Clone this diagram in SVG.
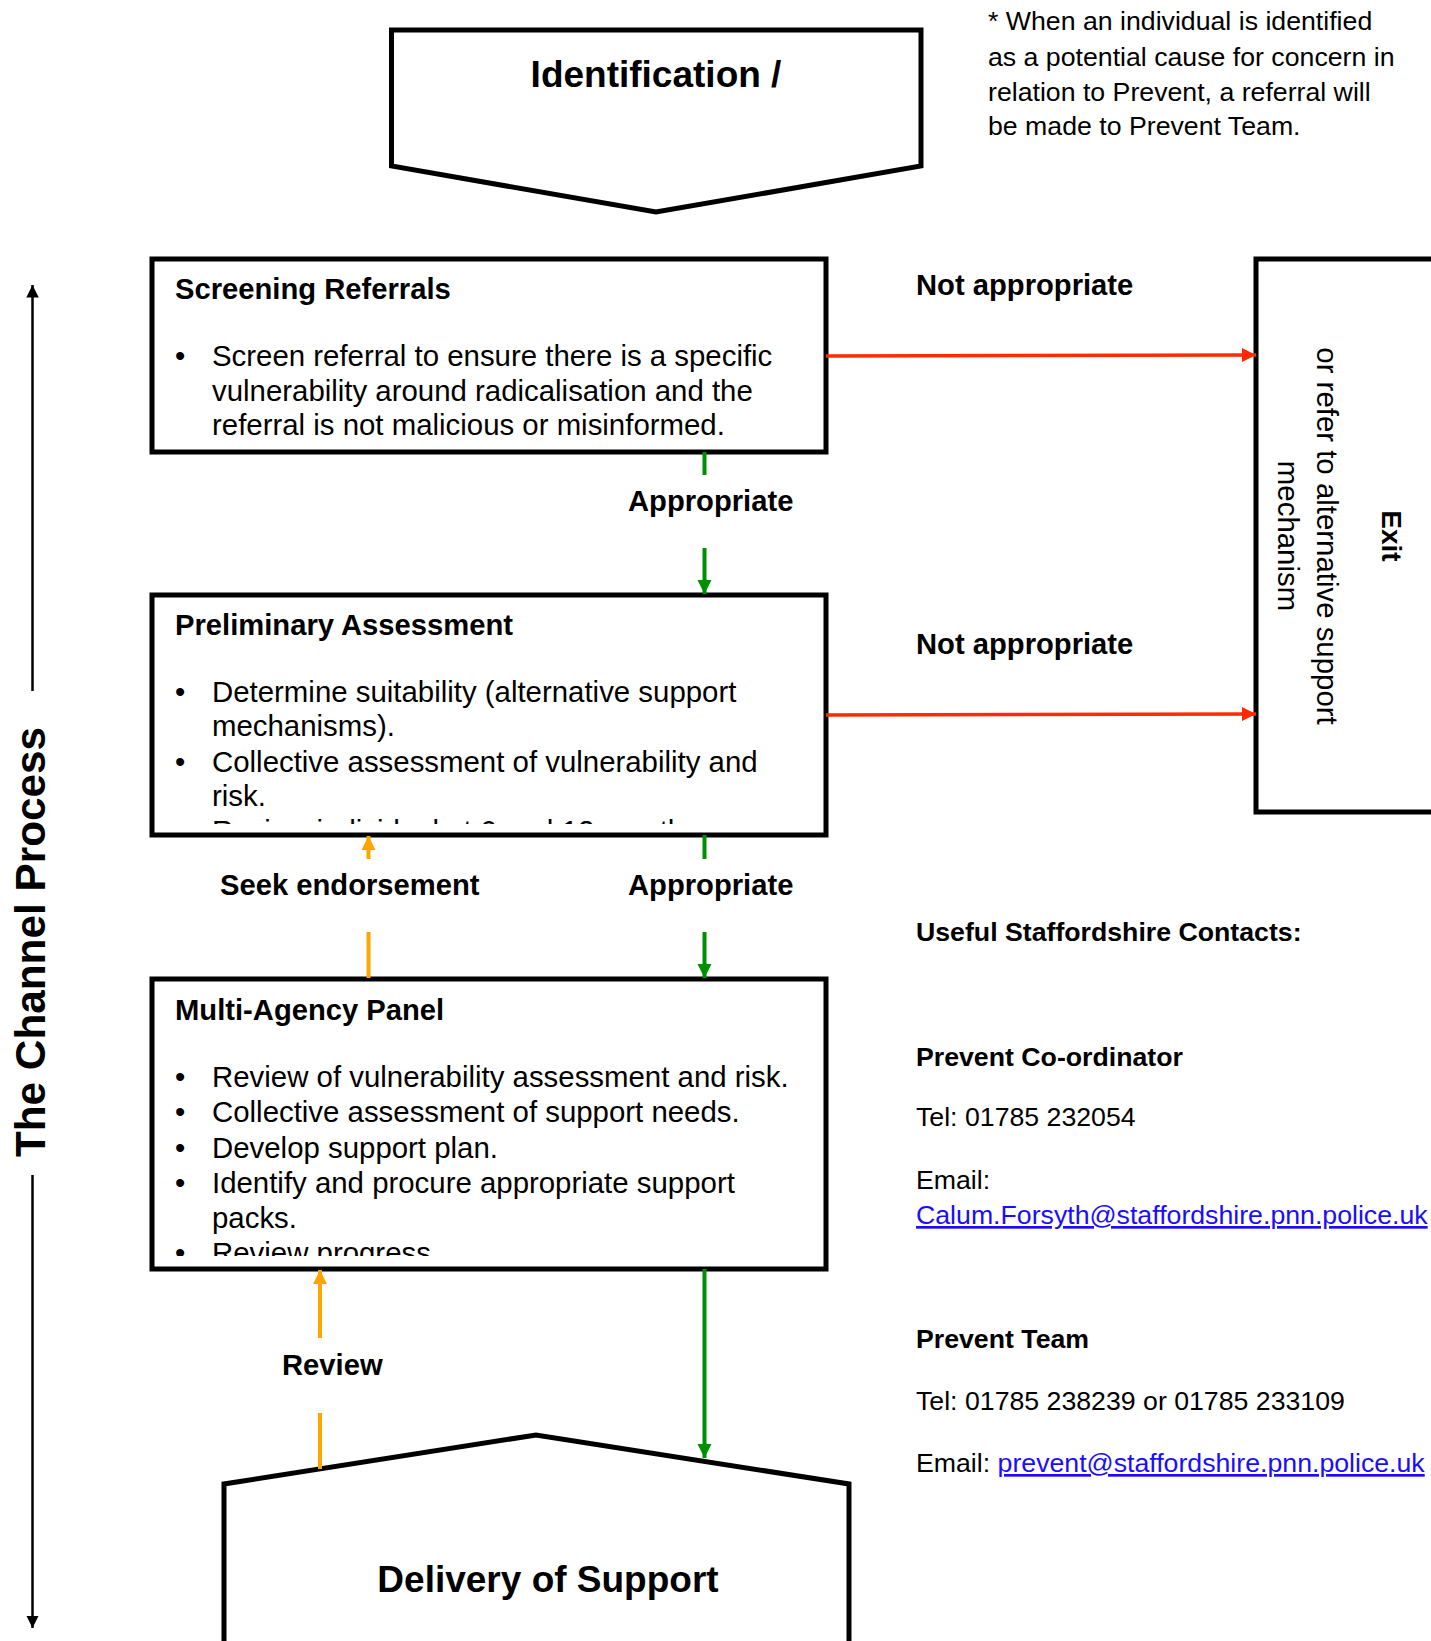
<svg xmlns="http://www.w3.org/2000/svg" width="1431" height="1641" viewBox="0 0 1431 1641">
<defs>
<style>
.box{fill:#fff;stroke:#000;stroke-width:5}
.t{font-family:"Liberation Sans",Arial,sans-serif;fill:#000}
.b{font-weight:bold}
.body{font-size:29.4px}
.ttl{font-size:29.2px;font-weight:bold}
.lbl{font-size:29.2px;font-weight:bold}
.big{font-size:37px;font-weight:bold}
.ct{font-size:26.7px}
.lnk{fill:#1a0dff;text-decoration:underline}
.red{stroke:#ff2a00;stroke-width:3.5;fill:none}
.grn{stroke:#008f00;stroke-width:4;fill:none}
.org{stroke:#ffa500;stroke-width:4;fill:none}
.blk{stroke:#000;stroke-width:2.5;fill:none}
</style>
<marker id="aR" viewBox="0 0 10 10" refX="10" refY="5" markerWidth="4" markerHeight="4" markerUnits="strokeWidth" orient="auto"><path d="M0,0 L10,5 L0,10 z" fill="#ff2a00"/></marker>
<marker id="aG" viewBox="0 0 10 10" refX="10" refY="5" markerWidth="3.6" markerHeight="3.6" markerUnits="strokeWidth" orient="auto"><path d="M0,0 L10,5 L0,10 z" fill="#008f00"/></marker>
<marker id="aO" viewBox="0 0 10 10" refX="10" refY="5" markerWidth="3.6" markerHeight="3.6" markerUnits="strokeWidth" orient="auto"><path d="M0,0 L10,5 L0,10 z" fill="#ffa500"/></marker>
<marker id="aK" viewBox="0 0 10 10" refX="10" refY="5" markerWidth="5" markerHeight="5" markerUnits="strokeWidth" orient="auto"><path d="M0,0 L10,5 L0,10 z" fill="#000"/></marker>
<clipPath id="cPre"><rect x="155" y="597" width="668" height="227"/></clipPath>
<clipPath id="cMulti"><rect x="155" y="982" width="668" height="274"/></clipPath>
</defs>
<rect width="1431" height="1641" fill="#fff"/>

<g id="side-arrow">
<line class="blk" x1="32.5" y1="691" x2="32.5" y2="285" marker-end="url(#aK)"/>
<line class="blk" x1="32.5" y1="1175" x2="32.5" y2="1628" marker-end="url(#aK)"/>
<text class="t b" font-size="42.3" text-anchor="middle" transform="translate(45,942) rotate(-90)">The Channel Process</text>
</g>

<g id="note">
<text class="t ct"><tspan x="988" y="30">* When an individual is identified</tspan><tspan x="988" y="66">as a potential cause for concern in</tspan><tspan x="988" y="101">relation to Prevent, a referral will</tspan><tspan x="988" y="135">be made to Prevent Team.</tspan></text>
</g>

<g id="identification">
<polygon class="box" points="391.5,30 921,30 921,166 656,212 391.5,166"/>
<text class="t big" x="656" y="87" text-anchor="middle">Identification /</text>
</g>

<g id="screening">
<rect class="box" x="152" y="259" width="674" height="193"/>
<text class="t ttl" x="175" y="299">Screening Referrals</text>
<text class="t body"><tspan x="175" y="366">•</tspan><tspan x="212" y="366">Screen referral to ensure there is a specific</tspan><tspan x="212" y="401">vulnerability around radicalisation and the</tspan><tspan x="212" y="435">referral is not malicious or misinformed.</tspan></text>
</g>

<g id="preliminary">
<rect class="box" x="152" y="595" width="674" height="240"/>
<text class="t ttl" x="175" y="635">Preliminary Assessment</text>
<g clip-path="url(#cPre)">
<text class="t body"><tspan x="175" y="702">•</tspan><tspan x="212" y="702">Determine suitability (alternative support</tspan><tspan x="212" y="736">mechanisms).</tspan><tspan x="175" y="772">•</tspan><tspan x="212" y="772">Collective assessment of vulnerability and</tspan><tspan x="212" y="806">risk.</tspan><tspan x="175" y="841">•</tspan><tspan x="212" y="841">Review individual at 6 and 12 months.</tspan></text>
</g>
</g>

<g id="multi-agency">
<rect class="box" x="152" y="979" width="674" height="290"/>
<text class="t ttl" x="175" y="1020">Multi-Agency Panel</text>
<g clip-path="url(#cMulti)">
<text class="t body"><tspan x="175" y="1087">•</tspan><tspan x="212" y="1087">Review of vulnerability assessment and risk.</tspan><tspan x="175" y="1122">•</tspan><tspan x="212" y="1122">Collective assessment of support needs.</tspan><tspan x="175" y="1158">•</tspan><tspan x="212" y="1158">Develop support plan.</tspan><tspan x="175" y="1193">•</tspan><tspan x="212" y="1193">Identify and procure appropriate support</tspan><tspan x="212" y="1228">packs.</tspan><tspan x="175" y="1263">•</tspan><tspan x="212" y="1263">Review progress.</tspan></text>
</g>
</g>

<g id="exit">
<rect class="box" x="1256" y="259" width="200" height="553"/>
<text class="t b" font-size="28" text-anchor="middle" transform="translate(1382,536) rotate(90)">Exit</text>
<text class="t body" text-anchor="middle" transform="translate(1317,536) rotate(90)">or refer to alternative support</text>
<text class="t body" text-anchor="middle" transform="translate(1278,536) rotate(90)">mechanism</text>
</g>

<g id="delivery">
<polygon class="box" points="224,1645 224,1484 536,1435 849,1484 849,1645"/>
<text class="t big" x="548" y="1592" text-anchor="middle">Delivery of Support</text>
</g>

<g id="contacts">
<text class="t ct b" x="916" y="941">Useful Staffordshire Contacts:</text>
<text class="t ct b" x="916" y="1066">Prevent Co-ordinator</text>
<text class="t ct" x="916" y="1126">Tel: 01785 232054</text>
<text class="t ct" x="916" y="1189">Email:</text>
<text class="t ct lnk" x="916" y="1224">Calum.Forsyth@staffordshire.pnn.police.uk</text>
<text class="t ct b" x="916" y="1348">Prevent Team</text>
<text class="t ct" x="916" y="1410">Tel: 01785 238239 or 01785 233109</text>
<text class="t ct" x="916" y="1472">Email: <tspan class="lnk">prevent@staffordshire.pnn.police.uk</tspan></text>
</g>

<g id="connectors">
<line class="red" x1="826" y1="356" x2="1256" y2="355" marker-end="url(#aR)"/>
<line class="red" x1="826" y1="715" x2="1256" y2="714" marker-end="url(#aR)"/>
<line class="grn" x1="704.5" y1="452" x2="704.5" y2="475"/>
<line class="grn" x1="704.5" y1="548" x2="704.5" y2="594" marker-end="url(#aG)"/>
<line class="grn" x1="704.5" y1="835" x2="704.5" y2="859"/>
<line class="grn" x1="704.5" y1="932" x2="704.5" y2="978" marker-end="url(#aG)"/>
<line class="org" x1="368.5" y1="859" x2="368.5" y2="836" marker-end="url(#aO)"/>
<line class="org" x1="368.5" y1="932" x2="368.5" y2="978"/>
<line class="grn" x1="704.5" y1="1269" x2="704.5" y2="1458" marker-end="url(#aG)"/>
<line class="org" x1="320" y1="1338" x2="320" y2="1270" marker-end="url(#aO)"/>
<line class="org" x1="320" y1="1413" x2="320" y2="1469"/>
<text class="t lbl" x="916" y="295">Not appropriate</text>
<text class="t lbl" x="916" y="654">Not appropriate</text>
<text class="t lbl" x="628" y="511">Appropriate</text>
<text class="t lbl" x="628" y="895">Appropriate</text>
<text class="t lbl" x="220" y="895">Seek endorsement</text>
<text class="t lbl" x="282" y="1375">Review</text>
</g>
</svg>
